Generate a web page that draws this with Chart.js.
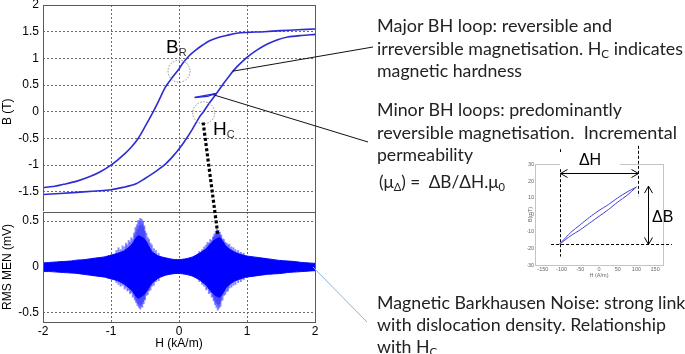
<!DOCTYPE html>
<html><head><meta charset="utf-8">
<script src="https://cdn.jsdelivr.net/npm/chart.js@4.4.1/dist/chart.umd.min.js"></script>
<style>
html,body{margin:0;padding:0;background:#fff;}
#wrap{position:relative;width:685px;height:354px;overflow:hidden;background:#fff;}
canvas{position:absolute;left:0;top:0;}
.t{position:absolute;white-space:nowrap;font-family:Lato,'Open Sans',sans-serif;font-size:17px;color:#222;transform-origin:0 50%;line-height:20px;height:20px;}
.t sub{font-size:11px;vertical-align:-3px;line-height:0;}
.big{position:absolute;font-family:'Liberation Sans',Arial,sans-serif;font-size:19px;color:#000;line-height:19px;white-space:nowrap;}
.big sub{font-size:11px;vertical-align:-3px;line-height:0;color:#333;}
.delta{position:absolute;font-family:'Liberation Sans',Arial,sans-serif;font-size:16px;color:#000;line-height:16px;white-space:nowrap;}
</style></head>
<body><div id="wrap">
<canvas id="cTop" width="685" height="354"></canvas>
<canvas id="cNoise" width="685" height="354"></canvas>
<canvas id="cInset" width="685" height="354"></canvas>

<div class="big" style="left:166px;top:37px">B<sub>R</sub></div>
<div class="big" style="left:213px;top:119px">H<sub>C</sub></div>

<div class="t" data-w="235" style="left:377px;top:16px">Major BH loop: reversible and</div>
<div class="t" data-w="306" style="left:377px;top:39px">irreversible magnetisation. H<sub>C</sub> indicates</div>
<div class="t" data-w="145" style="left:377px;top:61px">magnetic hardness</div>
<div class="t" data-w="245" style="left:377px;top:100px">Minor BH loops: predominantly</div>
<div class="t" data-w="300" style="left:377px;top:123px">reversible magnetisation.&nbsp; Incremental</div>
<div class="t" data-w="96" style="left:377px;top:145px">permeability</div>
<div class="t" data-w="126" style="left:379px;top:172px">(μ<sub>Δ</sub>) =&nbsp; ΔB/ΔH.μ<sub>0</sub></div>
<div class="t" style="left:377px;top:293px">Magnetic Barkhausen Noise: strong link</div>
<div class="t" data-w="289" style="left:377px;top:315px">with dislocation density. Relationship</div>
<div class="t" style="left:377px;top:337px">with H<sub>C</sub></div>

<div class="delta" style="left:560px;top:152px;width:60px;height:17px;background:#fff;text-align:center">ΔH</div>
<div class="delta" style="left:652px;top:209px">ΔB</div>
</div>
<script>
// ---------- DATA ----------
// Major BH loop, descending (upper) branch: H (kA/m), B (T)
const hUpper = [2.0,1.75,1.5,1.25,1.0,0.85,0.7,0.6,0.45,0.35,0.25,0.15,0.05,0.0,-0.1,-0.2,-0.3,-0.4,-0.5,-0.6,-0.7,-0.8,-0.9,-1.0,-1.15,-1.3,-1.5,-1.7,-1.85,-2.0];
const bUpper = [1.55,1.535,1.52,1.50,1.485,1.47,1.43,1.40,1.33,1.25,1.16,1.05,0.90,0.80,0.64,0.46,0.20,-0.05,-0.28,-0.50,-0.66,-0.79,-0.90,-1.0,-1.12,-1.21,-1.30,-1.36,-1.40,-1.42];
// Major BH loop, ascending (lower) branch
const hLower = [-2.0,-1.5,-1.0,-0.8,-0.65,-0.5,-0.4,-0.3,-0.2,-0.1,0.0,0.1,0.2,0.3,0.36,0.45,0.55,0.65,0.75,0.85,1.0,1.15,1.3,1.45,1.6,1.8,2.0];
const bLower = [-1.55,-1.51,-1.46,-1.41,-1.36,-1.25,-1.17,-1.08,-0.98,-0.85,-0.70,-0.52,-0.32,-0.10,0.0,0.17,0.34,0.52,0.69,0.84,1.02,1.16,1.27,1.35,1.40,1.43,1.45];
// Minor loop drawn on the major loop
const hMinorA = [0.23,0.55];
const bMinorA = [0.27,0.345];
const hMinorB = [0.23,0.42,0.55];
const bMinorB = [0.265,0.29,0.345];

// Barkhausen noise (mV): dense envelope
const noiseH = [-2.0,-1.9,-1.8,-1.7,-1.6,-1.5,-1.4,-1.3,-1.2,-1.1,-1.0,-0.9,-0.8,-0.7,-0.6,-0.5,-0.4,-0.3,-0.2,-0.1,0.0,0.1,0.2,0.3,0.4,0.5,0.6,0.7,0.8,0.9,1.0,1.1,1.2,1.3,1.4,1.5,1.6,1.7,1.8,1.9,2.0];
const noiseTop = [0.045,0.05,0.055,0.06,0.065,0.075,0.08,0.09,0.10,0.11,0.13,0.15,0.18,0.24,0.34,0.30,0.17,0.12,0.10,0.085,0.08,0.09,0.11,0.15,0.20,0.28,0.32,0.22,0.17,0.14,0.12,0.11,0.10,0.09,0.08,0.07,0.065,0.06,0.05,0.045,0.04];
const noiseBottom = [-0.05,-0.05,-0.055,-0.06,-0.065,-0.07,-0.08,-0.09,-0.10,-0.11,-0.13,-0.15,-0.19,-0.25,-0.34,-0.29,-0.18,-0.12,-0.09,-0.075,-0.07,-0.08,-0.10,-0.14,-0.20,-0.29,-0.33,-0.22,-0.16,-0.13,-0.11,-0.10,-0.09,-0.08,-0.075,-0.07,-0.06,-0.055,-0.05,-0.045,-0.04];
// Barkhausen noise: individual spikes around the two peaks
const spikeH = [-0.92,-0.89,-0.86,-0.83,-0.80,-0.78,-0.76,-0.74,-0.72,-0.70,-0.68,-0.66,-0.65,-0.64,-0.63,-0.62,-0.61,-0.60,-0.59,-0.58,-0.57,-0.56,-0.55,-0.54,-0.53,-0.52,-0.51,-0.50,-0.48,-0.46,-0.44,-0.42,-0.40,-0.37,-0.34,-0.30,
                0.30,0.34,0.37,0.40,0.42,0.44,0.46,0.48,0.50,0.51,0.52,0.53,0.54,0.55,0.56,0.57,0.58,0.59,0.60,0.61,0.62,0.64,0.66,0.68,0.70,0.72,0.74,0.77,0.80,0.83,0.87,0.91,0.95];
const spikeTop = [0.18,0.21,0.19,0.23,0.22,0.26,0.24,0.29,0.27,0.32,0.30,0.37,0.34,0.43,0.38,0.46,0.41,0.51,0.44,0.49,0.53,0.45,0.52,0.47,0.50,0.43,0.45,0.39,0.37,0.32,0.30,0.26,0.24,0.20,0.18,0.15,
                  0.17,0.19,0.22,0.24,0.27,0.26,0.30,0.29,0.33,0.32,0.36,0.34,0.39,0.37,0.41,0.38,0.40,0.36,0.38,0.34,0.35,0.31,0.30,0.27,0.26,0.24,0.25,0.22,0.21,0.19,0.18,0.16,0.15];
const spikeBottom = [-0.17,-0.19,-0.21,-0.20,-0.24,-0.22,-0.26,-0.25,-0.29,-0.28,-0.33,-0.31,-0.36,-0.34,-0.39,-0.37,-0.42,-0.40,-0.44,-0.41,-0.46,-0.43,-0.40,-0.44,-0.38,-0.40,-0.35,-0.36,-0.31,-0.30,-0.26,-0.25,-0.21,-0.20,-0.16,-0.15,
                     -0.16,-0.19,-0.21,-0.25,-0.24,-0.29,-0.28,-0.33,-0.32,-0.37,-0.35,-0.41,-0.38,-0.44,-0.40,-0.47,-0.42,-0.45,-0.40,-0.43,-0.37,-0.36,-0.31,-0.30,-0.27,-0.26,-0.23,-0.22,-0.20,-0.19,-0.17,-0.16,-0.14];

// Inset minor loop: H (A/m), B (mT)
const insetHDown = [100,75,50,25,0,-25,-50,-75,-105];
const insetBDown = [16.5,13.5,10,6,2.5,-1.5,-6,-10.5,-17.5];
const insetHUp = [-105,-75,-50,-25,0,25,50,75,100];
const insetBUp = [-17.5,-12.5,-9,-5,-1,3,7.5,11.5,16.5];

// Tick labels
const hTicks = [-2,-1,0,1,2];
const bTicks = [-1.5,-1,-0.5,0,0.5,1,1.5,2];
const noiseTicks = [-0.5,0,0.5];
const insetHTicks = [-150,-100,-50,0,50,100,150];
const insetBTicks = [-30,-20,-10,0,10,20,30];

// ---------- STYLE ----------
const LOOP = '#2c2cd2';
const GRID = '#6a6a6a';
const FRAME = '#5a5a5a';
const FONT = {family:"'Liberation Sans', Arial, sans-serif", size:12};
const pts = (xs, ys) => xs.map((x,i)=>({x:x, y:ys[i]}));
const setTicks = arr => s => { s.ticks = arr.map(v=>({value:v})); };

const framePlugin = {
  id:'frame',
  afterDraw(chart){
    const a = chart.chartArea, c = chart.ctx;
    c.save(); c.strokeStyle = FRAME; c.lineWidth = 1; c.setLineDash([]);
    c.strokeRect(Math.round(a.left)+0.5, Math.round(a.top)+0.5, Math.round(a.right-a.left), Math.round(a.bottom-a.top));
    c.restore();
  }
};

// ---------- TOP: BH loop ----------
const topChart = new Chart(document.getElementById('cTop'), {
  type:'line',
  data:{datasets:[
    {data:pts(hUpper,bUpper), borderColor:LOOP, borderWidth:1.6, pointRadius:0, tension:0.3, fill:false},
    {data:pts(hLower,bLower), borderColor:LOOP, borderWidth:1.6, pointRadius:0, tension:0.3, fill:false},
    {data:pts(hMinorA,bMinorA), borderColor:LOOP, borderWidth:1.3, pointRadius:0, fill:false},
    {data:pts(hMinorB,bMinorB), borderColor:LOOP, borderWidth:1.3, pointRadius:0, fill:false}
  ]},
  options:{
    responsive:false, animation:false, events:[],
    layout:{padding:{left:0,right:370,top:5,bottom:135.5}},
    plugins:{legend:{display:false}, tooltip:{enabled:false}},
    scales:{
      x:{type:'linear', min:-2, max:2, afterBuildTicks:setTicks(hTicks),
         ticks:{display:false}, grid:{color:GRID, drawTicks:false}, border:{display:false, dash:[2,2]},
         afterFit:s=>{s.height=0; s.paddingLeft=0; s.paddingRight=0;}},
      y:{type:'linear', min:-2, max:2, afterBuildTicks:setTicks(bTicks),
         ticks:{font:FONT, color:'#000', padding:4, callback:v=>String(v)},
         grid:{color:GRID, drawTicks:false}, border:{display:false, dash:[2,2]},
         title:{display:true, text:'B (T)', font:FONT, color:'#000', padding:{top:0,bottom:0}},
         afterFit:s=>{s.width=43; s.paddingTop=0; s.paddingBottom=0;}}
    }
  },
  plugins:[framePlugin, {
    id:'circles',
    afterDraw(chart){
      const c = chart.ctx, x = chart.scales.x, y = chart.scales.y;
      c.save(); c.strokeStyle = '#8a8a8a'; c.lineWidth = 1; c.setLineDash([1.5,1.5]);
      [[0,0.76],[0.363,-0.02]].forEach(p=>{
        c.beginPath(); c.arc(x.getPixelForValue(p[0]), y.getPixelForValue(p[1]), 11, 0, Math.PI*2); c.stroke();
      });
      c.restore();
    }
  }]
});

// ---------- BOTTOM: Barkhausen noise ----------
const noiseChart = new Chart(document.getElementById('cNoise'), {
  type:'line',
  data:{datasets:[
    {type:'bar', data:spikeH.map((h,i)=>({x:h, y:[spikeBottom[i], spikeTop[i]]})), backgroundColor:'rgba(55,55,255,0.6)', borderWidth:0, barThickness:1.3, order:3},
    {type:'line', data:pts(noiseH,noiseTop), borderColor:'#0000ff', backgroundColor:'#0000ff', borderWidth:1, pointRadius:0, tension:0.2, fill:'+1', order:1},
    {type:'line', data:pts(noiseH,noiseBottom), borderColor:'#0000ff', borderWidth:1, pointRadius:0, tension:0.2, fill:false, order:2}
  ]},
  options:{
    responsive:false, animation:false, events:[],
    layout:{padding:{left:0,right:370,top:212,bottom:0}},
    plugins:{legend:{display:false}, tooltip:{enabled:false}},
    scales:{
      x:{type:'linear', min:-2, max:2, offset:false, afterBuildTicks:setTicks(hTicks),
         ticks:{font:FONT, color:'#000', padding:2, maxRotation:0, callback:v=>String(v)},
         grid:{color:GRID, drawTicks:false, offset:false}, border:{display:false, dash:[2,2]},
         title:{display:true, text:'H (kA/m)', font:FONT, color:'#000', padding:{top:0,bottom:3}},
         afterFit:s=>{s.height=32; s.paddingLeft=0; s.paddingRight=0;}},
      y:{type:'linear', min:-0.6, max:0.6, afterBuildTicks:setTicks(noiseTicks),
         ticks:{font:FONT, color:'#000', padding:4, callback:v=>String(v)},
         grid:{color:GRID, drawTicks:false}, border:{display:false, dash:[2,2]},
         title:{display:true, text:'RMS MEN (mV)', font:FONT, color:'#000', padding:{top:0,bottom:0}},
         afterFit:s=>{s.width=43; s.paddingTop=0; s.paddingBottom=0;}}
    }
  },
  plugins:[{
    id:'bg',
    beforeDraw(chart){
      const a = chart.chartArea, c = chart.ctx;
      c.save(); c.fillStyle='#fff'; c.fillRect(a.left, a.top-1, a.right-a.left, a.bottom-a.top+2); c.restore();
    }
  }, framePlugin, {
    id:'connectors',
    afterDraw(chart){
      const c = chart.ctx, tx = topChart.scales.x, ty = topChart.scales.y, nx = chart.scales.x, ny = chart.scales.y;
      c.save(); c.setLineDash([]);
      c.strokeStyle='#111'; c.lineWidth=1;
      c.beginPath(); c.moveTo(tx.getPixelForValue(0.79), ty.getPixelForValue(0.76)); c.lineTo(373,47); c.stroke();
      c.beginPath(); c.moveTo(tx.getPixelForValue(0.50), ty.getPixelForValue(0.32)); c.lineTo(368,142); c.stroke();
      c.strokeStyle='#86b4de'; c.lineWidth=1;
      c.beginPath(); c.moveTo(nx.getPixelForValue(1.97), ny.getPixelForValue(0.0)); c.lineTo(367,322); c.stroke();
      c.strokeStyle='#000'; c.lineWidth=3.2; c.setLineDash([3,2.2]);
      c.beginPath(); c.moveTo(tx.getPixelForValue(0.355), ty.getPixelForValue(-0.2)); c.lineTo(nx.getPixelForValue(0.57), ny.getPixelForValue(0.36)); c.stroke();
      c.restore();
    }
  }]
});

// ---------- INSET: minor loop ----------
const SMALL = {family:"'Liberation Sans', Arial, sans-serif", size:5.5};
function arrowHead(c, x, y, dx, dy){
  const L=7, W=4, nx=-dy, ny=dx;
  c.beginPath(); c.moveTo(x - dx*L + nx*W, y - dy*L + ny*W); c.lineTo(x,y); c.lineTo(x - dx*L - nx*W, y - dy*L - ny*W); c.stroke();
}
const insetChart = new Chart(document.getElementById('cInset'), {
  type:'line',
  data:{datasets:[
    {data:pts(insetHDown,insetBDown), borderColor:'#3c3cd6', borderWidth:1, pointRadius:0, tension:0.2, fill:false},
    {data:pts(insetHUp,insetBUp), borderColor:'#3c3cd6', borderWidth:1, pointRadius:0, tension:0.2, fill:false}
  ]},
  options:{
    responsive:false, animation:false, events:[],
    layout:{padding:{left:527,right:22,top:164.3,bottom:75}},
    plugins:{legend:{display:false}, tooltip:{enabled:false}},
    scales:{
      x:{type:'linear', min:-171, max:171, afterBuildTicks:setTicks(insetHTicks),
         ticks:{font:SMALL, color:'#666', padding:1, maxRotation:0, autoSkip:false, callback:v=>String(v)},
         grid:{display:false, drawTicks:false}, border:{display:false},
         title:{display:true, text:'H (A/m)', font:SMALL, color:'#666', padding:{top:0,bottom:0}},
         afterFit:s=>{s.height=14; s.paddingLeft=0; s.paddingRight=0;}},
      y:{type:'linear', min:-30, max:30, afterBuildTicks:setTicks(insetBTicks),
         ticks:{font:SMALL, color:'#666', padding:1, autoSkip:false, callback:v=>String(v)},
         grid:{display:false, drawTicks:false}, border:{display:false},
         title:{display:true, text:'B(mT)', font:SMALL, color:'#666', padding:{top:0,bottom:0}},
         afterFit:s=>{s.width=8; s.paddingTop=0; s.paddingBottom=0;}}
    }
  },
  plugins:[{
    id:'insetAnno',
    afterDraw(chart){
      const c = chart.ctx, a = chart.chartArea, x = chart.scales.x, y = chart.scales.y;
      c.save();
      c.strokeStyle='#c4c4c4'; c.lineWidth=1;
      c.strokeRect(Math.round(a.left)+0.5, Math.round(a.top)+0.5, Math.round(a.right-a.left), Math.round(a.bottom-a.top));
      c.strokeStyle='#000'; c.lineWidth=1; c.setLineDash([3,2]);
      const xl = Math.round(x.getPixelForValue(-105))+0.5, xr = Math.round(x.getPixelForValue(104))+0.5;
      const yb = Math.round(y.getPixelForValue(-17.5))+0.5;
      c.beginPath(); c.moveTo(xl, y.getPixelForValue(39)); c.lineTo(xl, y.getPixelForValue(-25)); c.stroke();
      c.beginPath(); c.moveTo(xr, y.getPixelForValue(41)); c.lineTo(xr, y.getPixelForValue(11)); c.stroke();
      c.beginPath(); c.moveTo(x.getPixelForValue(-128), yb); c.lineTo(x.getPixelForValue(195), yb); c.stroke();
      c.setLineDash([]);
      const ya = Math.round(y.getPixelForValue(25))+0.5;
      c.beginPath(); c.moveTo(xl, ya); c.lineTo(xr, ya); c.stroke();
      arrowHead(c, xl, ya, -1, 0); arrowHead(c, xr, ya, 1, 0);
      const xa = Math.round(x.getPixelForValue(131))+0.5, yt = y.getPixelForValue(17);
      c.beginPath(); c.moveTo(xa, yt); c.lineTo(xa, yb); c.stroke();
      arrowHead(c, xa, yt, 0, -1); arrowHead(c, xa, yb, 0, 1);
      c.restore();
    }
  }]
});

// ---------- fit annotation text widths ----------
const lines = Array.from(document.querySelectorAll('.t'));
let sum = 0, n = 0;
lines.forEach(el=>{
  const w = parseFloat(el.dataset.w);
  if (w) { const f = w/el.getBoundingClientRect().width; el.style.transform = 'scaleX('+f+')'; sum += f; n++; }
});
const avg = n ? sum/n : 1;
lines.forEach(el=>{ if (!el.dataset.w) el.style.transform = 'scaleX('+avg+')'; });
</script>
</body></html>
